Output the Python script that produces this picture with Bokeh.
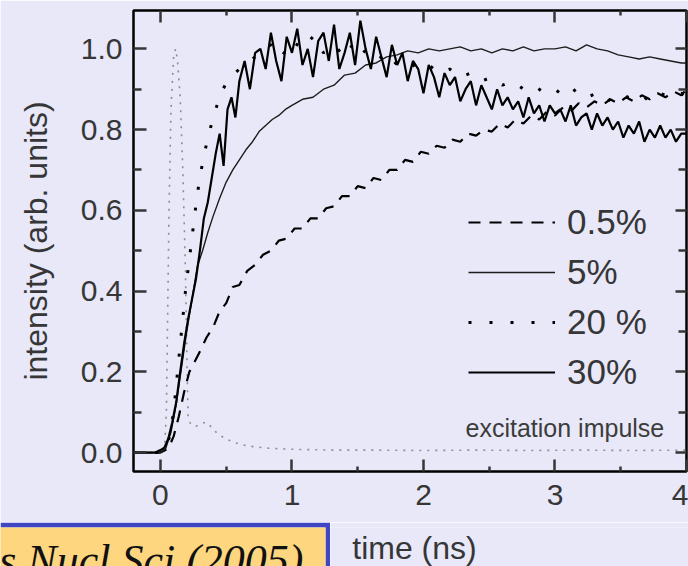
from bokeh.plotting import figure
from bokeh.layouts import column, row
from bokeh.models import Range1d, FixedTicker, LinearAxis, Legend, LegendItem, Label
from bokeh.embed import file_html
from bokeh.resources import INLINE

# ---------------- data ----------------
series_labels = ["0.5%", "5%", "20 %", "30%"]
impulse_label = "excitation impulse"

x_ticks = [0, 1, 2, 3, 4]
x_minor = [0.5, 1.5, 2.5, 3.5]
y_ticks = [0.0, 0.2, 0.4, 0.6, 0.8, 1.0]
y_minor = [0.1, 0.3, 0.5, 0.7, 0.9]
y_tick_labels = ["0.0", "0.2", "0.4", "0.6", "0.8", "1.0"]

# excitation impulse (grey dotted)
t_imp = [-0.2, 0.0, 0.03, 0.045, 0.055, 0.065, 0.08, 0.10, 0.115, 0.13,
         0.15, 0.17, 0.19, 0.20, 0.21, 0.23, 0.27, 0.31, 0.35, 0.39,
         0.43, 0.49, 0.56, 0.65, 0.80, 1.00, 1.30, 1.60, 2.00, 2.40,
         2.80, 3.20, 3.60, 4.00]
v_imp = [0.0, 0.0, 0.0, 0.10, 0.35, 0.60, 0.85, 0.98, 1.00, 0.97,
         0.88, 0.70, 0.45, 0.25, 0.09, 0.07, 0.065, 0.072, 0.075, 0.062,
         0.048, 0.035, 0.025, 0.017, 0.011, 0.008, 0.006, 0.006, 0.005, 0.006,
         0.005, 0.006, 0.005, 0.006]

# 0.5 % (dashed)
t_05 = [-0.2, 0.0, 0.06, 0.10, 0.14, 0.18, 0.22, 0.26, 0.30, 0.35,
        0.40, 0.45, 0.50, 0.55, 0.60, 0.66, 0.72, 0.78, 0.84, 0.90,
        0.96, 1.02, 1.08, 1.14, 1.20, 1.26, 1.32, 1.38, 1.44, 1.50,
        1.56, 1.62, 1.68, 1.74, 1.80, 1.86, 1.92, 1.98, 2.04, 2.10,
        2.16, 2.22, 2.28, 2.34, 2.40, 2.46, 2.52, 2.58, 2.64, 2.70,
        2.76, 2.82, 2.88, 2.94, 3.00, 3.06, 3.12, 3.18, 3.24, 3.30,
        3.36, 3.42, 3.48, 3.54, 3.60, 3.66, 3.72, 3.78, 3.84, 3.90,
        3.96, 4.00]
v_05 = [0.0, 0.0, 0.01, 0.04, 0.09, 0.15, 0.20, 0.225, 0.25, 0.285,
        0.31, 0.35, 0.37, 0.41, 0.415, 0.45, 0.465, 0.49, 0.50, 0.525,
        0.53, 0.555, 0.555, 0.58, 0.58, 0.605, 0.61, 0.635, 0.635, 0.66,
        0.655, 0.68, 0.675, 0.70, 0.70, 0.725, 0.72, 0.745, 0.74, 0.76,
        0.755, 0.775, 0.77, 0.79, 0.785, 0.80, 0.795, 0.815, 0.805, 0.825,
        0.815, 0.835, 0.825, 0.845, 0.835, 0.855, 0.845, 0.865, 0.855, 0.87,
        0.86, 0.875, 0.865, 0.88, 0.87, 0.885, 0.875, 0.89, 0.88, 0.895,
        0.885, 0.90]

# 5 % (thin solid)
t_5 = [-0.2, 0.0, 0.04, 0.08, 0.12, 0.16, 0.20, 0.24, 0.28, 0.32,
       0.36, 0.40, 0.45, 0.50, 0.55, 0.60, 0.65, 0.70, 0.75, 0.80,
       0.85, 0.90, 0.95, 1.00,
       1.08, 1.16, 1.24, 1.32, 1.40, 1.48, 1.56, 1.64, 1.72, 1.80,
       1.88, 1.96, 2.04, 2.12, 2.20, 2.28, 2.36, 2.44, 2.52, 2.60,
       2.68, 2.76, 2.84, 2.92, 3.00, 3.08, 3.16, 3.24, 3.32, 3.40,
       3.48, 3.56, 3.64, 3.72, 3.80, 3.88, 3.96, 4.00]
v_5 = [0.0, 0.0, 0.01, 0.05, 0.12, 0.21, 0.30, 0.38, 0.46, 0.50,
       0.545, 0.585, 0.63, 0.67, 0.70, 0.725, 0.75, 0.77, 0.795, 0.81,
       0.825, 0.835, 0.85, 0.86,
       0.875, 0.88, 0.90, 0.91, 0.935, 0.94, 0.96, 0.965, 0.98, 0.985,
       0.995, 0.99, 1.0, 0.995, 1.0, 1.005, 0.995, 1.0, 0.99, 1.0,
       0.995, 1.005, 0.995, 1.0, 1.0, 1.005, 0.995, 1.01, 1.0, 0.995,
       0.985, 0.98, 0.975, 0.98, 0.975, 0.97, 0.965, 0.965]

# 20 % (dotted)
t_20 = [-0.2, 0.0, 0.04, 0.07, 0.10, 0.13, 0.16, 0.19, 0.22, 0.25,
        0.28, 0.31, 0.34, 0.37, 0.40, 0.43, 0.46, 0.50, 0.55,
        0.60, 0.68, 0.76, 0.84, 0.92, 1.00, 1.08, 1.16, 1.24, 1.32,
        1.40, 1.48, 1.56, 1.64, 1.72, 1.80, 1.88, 1.96, 2.04, 2.12,
        2.20, 2.28, 2.36, 2.44, 2.52, 2.60, 2.68, 2.76, 2.84, 2.92,
        3.00, 3.08, 3.16, 3.24, 3.32, 3.40, 3.48, 3.56, 3.64, 3.72,
        3.80, 3.88, 3.96, 4.00]
v_20 = [0.0, 0.0, 0.01, 0.04, 0.10, 0.20, 0.30, 0.40, 0.48, 0.56,
        0.64, 0.70, 0.75, 0.79, 0.83, 0.86, 0.89, 0.915, 0.935,
        0.95, 0.97, 0.99, 1.01, 0.98, 1.02, 1.00, 1.03, 0.99, 1.01,
        0.98, 1.02, 0.99, 0.97, 0.99, 0.96, 0.97, 0.95, 0.96, 0.94,
        0.95, 0.93, 0.94, 0.92, 0.93, 0.91, 0.92, 0.90, 0.91, 0.89,
        0.90, 0.88, 0.90, 0.88, 0.89, 0.87, 0.89, 0.88, 0.89, 0.87,
        0.89, 0.88, 0.89, 0.88]

# 30 % (thick solid, noisy)
t_30 = [-0.2, -0.04, 0.0, 0.03, 0.06, 0.09, 0.12, 0.15, 0.18, 0.21,
        0.24, 0.27, 0.30, 0.33, 0.36, 0.39, 0.42, 0.45, 0.48, 0.51,
        0.54, 0.57, 0.60,
        0.64, 0.68, 0.72, 0.76, 0.80, 0.84, 0.88, 0.92, 0.96, 1.00,
        1.04, 1.08, 1.12, 1.16, 1.20, 1.24, 1.28, 1.32, 1.36, 1.40,
        1.44, 1.48, 1.52, 1.56, 1.60, 1.64, 1.68, 1.72, 1.76, 1.80,
        1.84, 1.88, 1.92, 1.96, 2.00, 2.04, 2.08, 2.12, 2.16, 2.20,
        2.24, 2.28, 2.32, 2.36, 2.40, 2.44, 2.48, 2.52, 2.56, 2.60,
        2.64, 2.68, 2.72, 2.76, 2.80, 2.84, 2.88, 2.92, 2.96, 3.00,
        3.04, 3.08, 3.12, 3.16, 3.20, 3.24, 3.28, 3.32, 3.36, 3.40,
        3.44, 3.48, 3.52, 3.56, 3.60, 3.64, 3.68, 3.72, 3.76, 3.80,
        3.84, 3.88, 3.92, 3.96, 4.00]
v_30 = [0.0, 0.0, 0.006, 0.012, 0.035, 0.075, 0.125, 0.20, 0.27, 0.33,
        0.38, 0.43, 0.50, 0.58, 0.62, 0.68, 0.74, 0.79, 0.71, 0.85,
        0.88, 0.83, 0.92,
        0.97, 0.90, 0.99, 1.00, 0.95, 1.04, 0.97, 0.92, 1.03, 0.99,
        1.05, 0.96, 1.00, 0.93, 1.02, 1.04, 0.97, 1.06, 0.95, 0.99,
        1.04, 0.96, 1.07, 1.00, 0.95, 1.03, 0.98, 0.93, 1.01, 0.96,
        0.99, 0.92, 0.97, 0.95, 0.89, 0.96, 0.93, 0.88, 0.94, 0.91,
        0.93, 0.87, 0.90, 0.92, 0.86, 0.91, 0.88, 0.85, 0.90, 0.86,
        0.88, 0.85, 0.87, 0.83, 0.88, 0.84, 0.86, 0.82, 0.86, 0.84,
        0.85, 0.82, 0.86, 0.81, 0.83, 0.84, 0.80, 0.84, 0.81, 0.83,
        0.80, 0.82, 0.78, 0.81, 0.79, 0.82, 0.77, 0.80, 0.78, 0.81,
        0.78, 0.80, 0.77, 0.79, 0.79]

citation = "IEEE Trans Nucl Sci (2005)"
x_title = "time (ns)"
y_title = "intensity (arb. units)"

for a, b in [(t_imp, v_imp), (t_05, v_05), (t_5, v_5), (t_20, v_20), (t_30, v_30)]:
    assert len(a) == len(b), (len(a), len(b))

# ---------------- styles ----------------
BG = "#e8e8f9"
INK = "#363636"
SANS = "Liberation Sans"
YELLOW = "#fed680"
BLUE = "#3f46c4"

# ---------------- main figure ----------------
p = figure(width=688, height=522,
           x_range=Range1d(-0.205, 4.0), y_range=Range1d(-0.047, 1.095),
           output_backend="svg", toolbar_location=None,
           min_border_left=133, min_border_right=2, min_border_top=10, min_border_bottom=51,
           background_fill_color=BG, border_fill_color=BG,
           outline_line_color="black", outline_line_width=2.5)
p.xgrid.visible = False
p.ygrid.visible = False


def style_axis(ax, major_in, minor_in, show_labels, standoff=10):
    ax.axis_line_color = None
    ax.major_tick_in = major_in
    ax.major_tick_out = 0
    ax.minor_tick_in = minor_in
    ax.minor_tick_out = 0
    ax.major_tick_line_width = 2.5
    ax.minor_tick_line_width = 2.5
    ax.major_tick_line_color = INK
    ax.minor_tick_line_color = INK
    if show_labels:
        ax.major_label_text_font = SANS
        ax.major_label_text_font_size = "30px"
        ax.major_label_text_color = INK
        ax.major_label_standoff = standoff
    else:
        ax.major_label_text_color = None
        ax.major_label_text_alpha = 0
        ax.major_label_text_font_size = "0px"
        ax.major_label_standoff = 0


xa = p.xaxis[0]
xa.ticker = FixedTicker(ticks=x_ticks, minor_ticks=x_minor)
style_axis(xa, 12, 5, True, 13)

ya = p.yaxis[0]
ya.ticker = FixedTicker(ticks=y_ticks, minor_ticks=y_minor)
ya.major_label_overrides = dict(zip(y_ticks, y_tick_labels))
style_axis(ya, 13, 8, True, 11)
ya.axis_label = y_title
ya.axis_label_text_font = SANS
ya.axis_label_text_font_size = "32px"
ya.axis_label_text_font_style = "normal"
ya.axis_label_text_color = INK
ya.axis_label_standoff = 24

top_ax = LinearAxis(ticker=FixedTicker(ticks=x_ticks, minor_ticks=x_minor))
style_axis(top_ax, 12, 5, False)
p.add_layout(top_ax, "above")

right_ax = LinearAxis(ticker=FixedTicker(ticks=y_ticks, minor_ticks=y_minor))
style_axis(right_ax, 11, 8, False)
p.add_layout(right_ax, "right")

# curves
r_imp = p.line(t_imp, v_imp, line_color="#8e8e8e", line_width=1.6, line_dash="2 6")
r05 = p.line(t_05, v_05, line_color="black", line_width=2.2, line_dash="12 9")
r5 = p.line(t_5, v_5, line_color="#1c1c1c", line_width=1.4)
r20 = p.line(t_20, v_20, line_color="black", line_width=3, line_dash="3 18")
r30 = p.line(t_30, v_30, line_color="black", line_width=2.2)

legend = Legend(items=[LegendItem(label=series_labels[0], renderers=[r05]),
                       LegendItem(label=series_labels[1], renderers=[r5]),
                       LegendItem(label=series_labels[2], renderers=[r20]),
                       LegendItem(label=series_labels[3], renderers=[r30])],
                location=(335, 79), orientation="vertical",
                glyph_width=87, glyph_height=40, label_height=40,
                label_standoff=12, spacing=10, padding=0, margin=0,
                background_fill_alpha=0, border_line_color=None,
                label_text_font=SANS, label_text_font_size="35px",
                label_text_color=INK)
p.add_layout(legend)

p.add_layout(Label(x=2.32, y=0.06, text=impulse_label, text_align="left",
                   text_baseline="middle", text_font=SANS, text_font_size="25px",
                   text_color="#3c3c3c"))

# ---------------- bottom strip: citation box + x title ----------------
cit = figure(width=330, height=44, x_range=Range1d(0, 325), y_range=Range1d(0, 39),
             x_axis_type=None, y_axis_type=None,
             output_backend="svg", toolbar_location=None,
             min_border_left=0, min_border_right=5, min_border_top=5, min_border_bottom=0,
             background_fill_color=YELLOW, border_fill_color=BLUE,
             outline_line_color=None)
cit.add_layout(Label(x=303, y=6, text=citation, text_align="right",
                     text_baseline="middle", text_font="Liberation Serif",
                     text_font_style="italic", text_font_size="44px",
                     text_color="#111111"))

tfig = figure(width=358, height=44, x_range=Range1d(0, 358), y_range=Range1d(0, 44),
              x_axis_type=None, y_axis_type=None,
              output_backend="svg", toolbar_location=None,
              min_border=0, background_fill_color=BG, border_fill_color=BG,
              outline_line_color=None)
tfig.add_layout(Label(x=84, y=21, text=x_title, text_align="center",
                      text_baseline="middle", text_font=SANS,
                      text_font_size="32px", text_color=INK))

layout = column(p, row(cit, tfig, spacing=0), spacing=0)

open("out.html", "w").write(file_html(layout, INLINE))
